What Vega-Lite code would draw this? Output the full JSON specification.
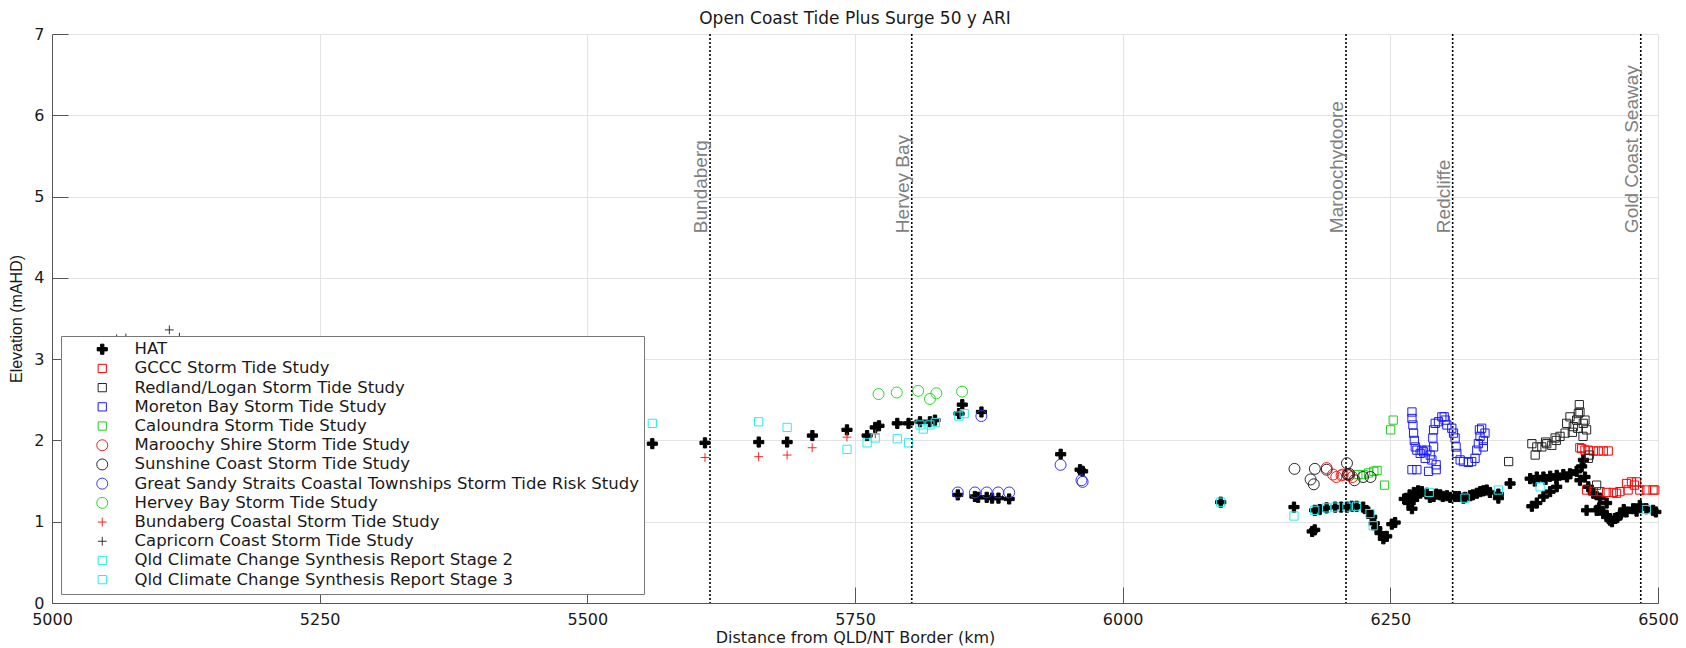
{
"$schema":"https://vega.github.io/schema/vega-lite/v6.json",
"width":1606,"height":569,
"autosize":"none",
"padding":{"left":52,"top":34,"right":28,"bottom":45},
"background":"white",
"title":{"text":"Open Coast Tide Plus Surge 50 y ARI","font":"DejaVu Sans","fontSize":17,"fontWeight":"normal","color":"#1a1a1a","offset":-2,"frame":"group","anchor":"middle"},
"config":{
 "view":{"stroke":null},
 "axis":{"labelFont":"DejaVu Sans","labelFontSize":16,"labelColor":"#1a1a1a","titleFont":"DejaVu Sans","titleFontSize":16,"titleFontWeight":"normal","titleColor":"#1a1a1a","domainColor":"#555555","tickColor":"#555555","gridColor":"#e3e3e3","domainWidth":1,"tickWidth":1},
 "legend":{"orient":"none","legendX":9,"legendY":302,"fillColor":"white","strokeColor":"#777777","padding":5,"rowPadding":2.2,"symbolOffset":28,"labelOffset":24,"symbolSize":121,"symbolStrokeWidth":1,"labelFont":"DejaVu Sans","labelFontSize":16.5,"labelColor":"#1a1a1a","labelLimit":800}
},
"datasets":{
"names":[
{"c":"H","s":"HAT"},
{"c":"G","s":"GCCC Storm Tide Study"},
{"c":"R","s":"Redland/Logan Storm Tide Study"},
{"c":"M","s":"Moreton Bay Storm Tide Study"},
{"c":"C","s":"Caloundra Storm Tide Study"},
{"c":"MS","s":"Maroochy Shire Storm Tide Study"},
{"c":"SC","s":"Sunshine Coast Storm Tide Study"},
{"c":"GS","s":"Great Sandy Straits Coastal Townships Storm Tide Risk Study"},
{"c":"HB","s":"Hervey Bay Storm Tide Study"},
{"c":"B","s":"Bundaberg Coastal Storm Tide Study"},
{"c":"CC","s":"Capricorn Coast Storm Tide Study"},
{"c":"Q2","s":"Qld Climate Change Synthesis Report Stage 2"},
{"c":"Q3","s":"Qld Climate Change Synthesis Report Stage 3"}
],
"lines":[
{"name":"Bundaberg","km":5614.6},
{"name":"Hervey Bay","km":5803},
{"name":"Maroochydoore","km":6208.6},
{"name":"Redcliffe","km":6308.2},
{"name":"Gold Coast Seaway","km":6483.9}
],
"pts":[
{"c":"H","km":5560.7,"e":1.96},{"c":"H","km":5609.9,"e":1.97},{"c":"H","km":5660.1,"e":1.98},{"c":"H","km":5686.6,"e":1.98},{"c":"H","km":5710.2,"e":2.06},{"c":"H","km":5742.5,"e":2.13},{"c":"H","km":5761.3,"e":2.06},{"c":"H","km":5768.9,"e":2.16},{"c":"H","km":5772.4,"e":2.18},{"c":"H","km":5789.5,"e":2.21},{"c":"H","km":5800,"e":2.21},{"c":"H","km":5810.7,"e":2.23},{"c":"H","km":5820,"e":2.23},{"c":"H","km":5824.7,"e":2.25},{"c":"H","km":5847.2,"e":2.33},{"c":"H","km":5850.2,"e":2.44},{"c":"H","km":5868.1,"e":2.35},
{"c":"H","km":5846,"e":1.33},{"c":"H","km":5862,"e":1.31},{"c":"H","km":5865,"e":1.30},{"c":"H","km":5873,"e":1.30},{"c":"H","km":5878,"e":1.29},{"c":"H","km":5884,"e":1.29},{"c":"H","km":5894,"e":1.28},
{"c":"H","km":5942.1,"e":1.83},{"c":"H","km":5960.2,"e":1.64},{"c":"H","km":5962.6,"e":1.62},{"c":"H","km":6091.6,"e":1.24},
{"c":"H","km":6160,"e":1.18},{"c":"H","km":6177,"e":0.88},{"c":"H","km":6179.4,"e":0.90},{"c":"H","km":6179.4,"e":1.14},{"c":"H","km":6184,"e":1.15},{"c":"H","km":6190.5,"e":1.17},{"c":"H","km":6198.5,"e":1.18},{"c":"H","km":6204,"e":1.18},{"c":"H","km":6209.5,"e":1.18},{"c":"H","km":6214,"e":1.19},{"c":"H","km":6218.5,"e":1.19},{"c":"H","km":6224.6,"e":1.18},{"c":"H","km":6229.4,"e":1.12},{"c":"H","km":6232.6,"e":1.06},{"c":"H","km":6235,"e":0.98},{"c":"H","km":6237.3,"e":0.92},{"c":"H","km":6240.4,"e":0.86},{"c":"H","km":6243.5,"e":0.79},{"c":"H","km":6246.6,"e":0.82},{"c":"H","km":6251.4,"e":0.97},{"c":"H","km":6254.5,"e":0.99},
{"c":"H","km":6263,"e":1.28},{"c":"H","km":6267,"e":1.23},{"c":"H","km":6270.2,"e":1.16},{"c":"H","km":6271.7,"e":1.27},{"c":"H","km":6268,"e":1.33},{"c":"H","km":6272,"e":1.36},{"c":"H","km":6274.8,"e":1.31},{"c":"H","km":6276,"e":1.38},{"c":"H","km":6279.5,"e":1.37},{"c":"H","km":6284.1,"e":1.35},{"c":"H","km":6287,"e":1.30},{"c":"H","km":6290.4,"e":1.31},{"c":"H","km":6293,"e":1.34},{"c":"H","km":6296.6,"e":1.33},{"c":"H","km":6299,"e":1.31},{"c":"H","km":6302.8,"e":1.32},{"c":"H","km":6306,"e":1.30},{"c":"H","km":6310.5,"e":1.31},{"c":"H","km":6314,"e":1.31},{"c":"H","km":6318.3,"e":1.29},{"c":"H","km":6320,"e":1.30},{"c":"H","km":6324.5,"e":1.32},{"c":"H","km":6327,"e":1.33},{"c":"H","km":6330.7,"e":1.35},{"c":"H","km":6334,"e":1.37},{"c":"H","km":6336.9,"e":1.38},{"c":"H","km":6340,"e":1.39},{"c":"H","km":6343,"e":1.36},{"c":"H","km":6350.9,"e":1.34},{"c":"H","km":6350.9,"e":1.29},{"c":"H","km":6361.8,"e":1.47},
{"c":"H","km":6380.6,"e":1.53},{"c":"H","km":6385,"e":1.50},{"c":"H","km":6386.8,"e":1.55},{"c":"H","km":6393,"e":1.55},{"c":"H","km":6395,"e":1.52},{"c":"H","km":6399.3,"e":1.56},{"c":"H","km":6405,"e":1.53},{"c":"H","km":6405.4,"e":1.57},{"c":"H","km":6411.6,"e":1.58},{"c":"H","km":6415,"e":1.55},{"c":"H","km":6417.8,"e":1.59},{"c":"H","km":6424,"e":1.62},{"c":"H","km":6428.7,"e":1.68},{"c":"H","km":6430.3,"e":1.76},{"c":"H","km":6427.1,"e":1.51},{"c":"H","km":6431.8,"e":1.55},{"c":"H","km":6434.9,"e":1.43},{"c":"H","km":6439.6,"e":1.35},{"c":"H","km":6445.8,"e":1.29},{"c":"H","km":6452,"e":1.23},
{"c":"H","km":6382.2,"e":1.19},{"c":"H","km":6386.8,"e":1.23},{"c":"H","km":6393,"e":1.31},{"c":"H","km":6399.2,"e":1.37},{"c":"H","km":6405.4,"e":1.43},
{"c":"H","km":6433.3,"e":1.14},{"c":"H","km":6442.7,"e":1.14},{"c":"H","km":6445,"e":1.17},{"c":"H","km":6448.9,"e":1.10},{"c":"H","km":6452,"e":1.08},{"c":"H","km":6455.1,"e":1.02},{"c":"H","km":6457,"e":1.00},{"c":"H","km":6459.7,"e":1.04},{"c":"H","km":6462,"e":1.05},{"c":"H","km":6464.4,"e":1.08},{"c":"H","km":6468,"e":1.15},{"c":"H","km":6470.6,"e":1.12},{"c":"H","km":6476.8,"e":1.16},{"c":"H","km":6480,"e":1.13},{"c":"H","km":6483,"e":1.20},{"c":"H","km":6489.2,"e":1.16},{"c":"H","km":6495.4,"e":1.14},{"c":"H","km":6498,"e":1.12},
{"c":"G","km":6427,"e":1.91},{"c":"G","km":6428.7,"e":1.90},{"c":"G","km":6431.8,"e":1.88},{"c":"G","km":6434.9,"e":1.88},{"c":"G","km":6439.6,"e":1.87},{"c":"G","km":6444.2,"e":1.87},{"c":"G","km":6448.9,"e":1.87},{"c":"G","km":6453.5,"e":1.87},
{"c":"G","km":6433.3,"e":1.39},{"c":"G","km":6439.6,"e":1.37},{"c":"G","km":6445.8,"e":1.37},{"c":"G","km":6452,"e":1.36},{"c":"G","km":6458.2,"e":1.36},{"c":"G","km":6461.3,"e":1.35},{"c":"G","km":6464.4,"e":1.37},{"c":"G","km":6470.6,"e":1.47},{"c":"G","km":6472.1,"e":1.39},{"c":"G","km":6475.2,"e":1.49},{"c":"G","km":6478,"e":1.45},{"c":"G","km":6479.9,"e":1.49},{"c":"G","km":6483,"e":1.39},{"c":"G","km":6489.2,"e":1.39},{"c":"G","km":6495.4,"e":1.39},{"c":"G","km":6497,"e":1.39},
{"c":"R","km":6360.5,"e":1.74},{"c":"R","km":6382.2,"e":1.96},{"c":"R","km":6385.3,"e":1.82},{"c":"R","km":6386.8,"e":1.92},{"c":"R","km":6391.5,"e":1.92},{"c":"R","km":6395,"e":1.98},{"c":"R","km":6396.1,"e":1.96},{"c":"R","km":6400.8,"e":1.94},{"c":"R","km":6403.9,"e":2.03},{"c":"R","km":6405,"e":2.00},{"c":"R","km":6408.5,"e":2.05},{"c":"R","km":6413.2,"e":2.09},{"c":"R","km":6414.7,"e":2.21},{"c":"R","km":6417.8,"e":2.29},{"c":"R","km":6420,"e":2.10},{"c":"R","km":6420.9,"e":2.17},{"c":"R","km":6424,"e":2.25},{"c":"R","km":6425,"e":2.15},{"c":"R","km":6425.6,"e":2.33},{"c":"R","km":6426.5,"e":2.44},{"c":"R","km":6427.1,"e":2.35},{"c":"R","km":6430,"e":2.05},{"c":"R","km":6430.2,"e":2.21},{"c":"R","km":6431.8,"e":2.25},{"c":"R","km":6433.3,"e":2.13},{"c":"R","km":6434.9,"e":1.78},{"c":"R","km":6435.8,"e":1.82},{"c":"R","km":6442.7,"e":1.45},
{"c":"M","km":6270.2,"e":2.35},{"c":"M","km":6270.2,"e":2.27},{"c":"M","km":6271.1,"e":2.19},{"c":"M","km":6271.7,"e":2.09},{"c":"M","km":6272.4,"e":2.00},{"c":"M","km":6273.3,"e":1.92},{"c":"M","km":6274.8,"e":1.88},{"c":"M","km":6277.9,"e":1.84},{"c":"M","km":6281,"e":1.86},{"c":"M","km":6284.1,"e":1.88},{"c":"M","km":6287.2,"e":1.82},{"c":"M","km":6288.8,"e":1.76},{"c":"M","km":6290.4,"e":1.92},{"c":"M","km":6289.7,"e":2.03},{"c":"M","km":6290.4,"e":2.13},{"c":"M","km":6291.9,"e":2.21},{"c":"M","km":6295,"e":2.23},{"c":"M","km":6298.1,"e":2.29},{"c":"M","km":6300.3,"e":2.29},{"c":"M","km":6301.2,"e":2.25},{"c":"M","km":6302.8,"e":2.19},{"c":"M","km":6307.4,"e":2.15},{"c":"M","km":6309,"e":2.09},{"c":"M","km":6310.5,"e":2.03},{"c":"M","km":6311.4,"e":1.92},{"c":"M","km":6312.1,"e":1.84},{"c":"M","km":6315.2,"e":1.76},{"c":"M","km":6318.3,"e":1.74},{"c":"M","km":6322.9,"e":1.73},{"c":"M","km":6326,"e":1.74},{"c":"M","km":6329.1,"e":1.78},{"c":"M","km":6330.7,"e":1.88},{"c":"M","km":6332.2,"e":1.96},{"c":"M","km":6333.8,"e":2.05},{"c":"M","km":6333.2,"e":2.13},{"c":"M","km":6335.3,"e":2.15},{"c":"M","km":6338.4,"e":2.09},{"c":"M","km":6336.9,"e":2.00},{"c":"M","km":6336.9,"e":1.92},{"c":"M","km":6270.2,"e":1.64},{"c":"M","km":6274.8,"e":1.64},{"c":"M","km":6285.7,"e":1.62},{"c":"M","km":6292.8,"e":1.64},{"c":"M","km":6292.8,"e":1.70},{"c":"M","km":6279.5,"e":1.88},{"c":"M","km":6282.6,"e":1.78},
{"c":"C","km":6219.6,"e":1.58},{"c":"C","km":6224.6,"e":1.58},{"c":"C","km":6229.6,"e":1.60},{"c":"C","km":6234.6,"e":1.62},{"c":"C","km":6237.6,"e":1.63},{"c":"C","km":6244.6,"e":1.45},{"c":"C","km":6250.3,"e":2.13},{"c":"C","km":6252.7,"e":2.25},
{"c":"MS","km":6190.5,"e":1.66},{"c":"MS","km":6196.5,"e":1.58},{"c":"MS","km":6199.5,"e":1.55},{"c":"MS","km":6204.5,"e":1.57},{"c":"MS","km":6205.5,"e":1.58},{"c":"MS","km":6210.1,"e":1.58},{"c":"MS","km":6211.5,"e":1.57},{"c":"MS","km":6214.5,"e":1.55},
{"c":"SC","km":6160.5,"e":1.65},{"c":"SC","km":6175.5,"e":1.52},{"c":"SC","km":6178.5,"e":1.46},{"c":"SC","km":6179.5,"e":1.65},{"c":"SC","km":6190.5,"e":1.64},{"c":"SC","km":6209.5,"e":1.72},{"c":"SC","km":6210.1,"e":1.58},{"c":"SC","km":6211.5,"e":1.59},{"c":"SC","km":6216.5,"e":1.51},{"c":"SC","km":6224.5,"e":1.55},{"c":"SC","km":6231.5,"e":1.55},
{"c":"GS","km":5868,"e":2.30},{"c":"GS","km":5846,"e":1.36},{"c":"GS","km":5862,"e":1.36},{"c":"GS","km":5873,"e":1.36},{"c":"GS","km":5883.7,"e":1.36},{"c":"GS","km":5894,"e":1.36},{"c":"GS","km":5942,"e":1.70},{"c":"GS","km":5961.5,"e":1.51},{"c":"GS","km":5962.6,"e":1.49},
{"c":"HB","km":5772,"e":2.57},{"c":"HB","km":5789,"e":2.59},{"c":"HB","km":5809,"e":2.61},{"c":"HB","km":5820,"e":2.51},{"c":"HB","km":5826,"e":2.58},{"c":"HB","km":5850,"e":2.60},
{"c":"B","km":5609.9,"e":1.79},{"c":"B","km":5660,"e":1.80},{"c":"B","km":5686.6,"e":1.82},{"c":"B","km":5710,"e":1.91},{"c":"B","km":5742.5,"e":2.04},{"c":"B","km":5769,"e":2.08},
{"c":"CC","km":5060.4,"e":3.25},{"c":"CC","km":5069,"e":3.26},{"c":"CC","km":5109.6,"e":3.36},{"c":"CC","km":5119,"e":3.27},
{"c":"Q2","km":5560.7,"e":2.21},{"c":"Q2","km":5660,"e":2.23},{"c":"Q2","km":5686.6,"e":2.16},{"c":"Q2","km":5742.5,"e":1.89},{"c":"Q2","km":5761.3,"e":1.97},{"c":"Q2","km":5768.9,"e":2.03},{"c":"Q2","km":5789.5,"e":2.02},{"c":"Q2","km":5800,"e":1.97},{"c":"Q2","km":5810.7,"e":2.19},{"c":"Q2","km":5813.8,"e":2.14},{"c":"Q2","km":5820,"e":2.19},{"c":"Q2","km":5825,"e":2.22},{"c":"Q2","km":5847,"e":2.30},{"c":"Q2","km":5852,"e":2.33},{"c":"Q2","km":6091.6,"e":1.24},{"c":"Q2","km":6160,"e":1.07},
{"c":"Q3","km":6179.4,"e":1.14},{"c":"Q3","km":6190.5,"e":1.17},{"c":"Q3","km":6198.5,"e":1.18},{"c":"Q3","km":6209.5,"e":1.18},{"c":"Q3","km":6218.5,"e":1.19},{"c":"Q3","km":6231,"e":1.10},{"c":"Q3","km":6234,"e":0.95},{"c":"Q3","km":6286.3,"e":1.36},{"c":"Q3","km":6319.8,"e":1.29},{"c":"Q3","km":6350.9,"e":1.39},{"c":"Q3","km":6389.9,"e":1.43},{"c":"Q3","km":6489.2,"e":1.15}
]
},
"layer":[
{
"data":{"name":"pts"},
"transform":[{"lookup":"c","from":{"data":{"name":"names"},"key":"c","fields":["s"]}}],
"mark":{"type":"point","opacity":1,"strokeWidth":1,"size":121},
"encoding":{
 "x":{"field":"km","type":"quantitative","scale":{"domain":[5000,6500],"nice":false,"zero":false},
  "axis":{"values":[5000,5250,5500,5750,6000,6250,6500],"format":"d","title":"Distance from QLD/NT Border (km)","labelFlush":false,"tickSize":-16,"labelPadding":24,"titleY":34,"titleBaseline":"middle","grid":true}},
 "y":{"field":"e","type":"quantitative","scale":{"domain":[0,7],"nice":false,"zero":false},
  "axis":{"values":[0,1,2,3,4,5,6,7],"format":"d","title":"Elevation (mAHD)","tickSize":-16,"labelPadding":24,"titleFont":"Liberation Sans","titleFontSize":16,"titleX":-36,"titleY":284.5,"titleAngle":270,"titleAlign":"center","titleBaseline":"middle","grid":true}},
 "shape":{"field":"s","type":"nominal","legend":{"title":null},
  "scale":{"domain":["HAT","GCCC Storm Tide Study","Redland/Logan Storm Tide Study","Moreton Bay Storm Tide Study","Caloundra Storm Tide Study","Maroochy Shire Storm Tide Study","Sunshine Coast Storm Tide Study","Great Sandy Straits Coastal Townships Storm Tide Risk Study","Hervey Bay Storm Tide Study","Bundaberg Coastal Storm Tide Study","Capricorn Coast Storm Tide Study","Qld Climate Change Synthesis Report Stage 2","Qld Climate Change Synthesis Report Stage 3"],
  "range":["M-0.92,-0.3H-0.3V-0.92H0.3V-0.3H0.92V0.3H0.3V0.92H-0.3V0.3H-0.92Z","M-0.75,-0.75H0.75V0.75H-0.75Z","M-0.75,-0.75H0.75V0.75H-0.75Z","M-0.75,-0.75H0.75V0.75H-0.75Z","M-0.75,-0.75H0.75V0.75H-0.75Z","M-1,0A1,1 0 1,1 1,0A1,1 0 1,1 -1,0Z","M-1,0A1,1 0 1,1 1,0A1,1 0 1,1 -1,0Z","M-1,0A1,1 0 1,1 1,0A1,1 0 1,1 -1,0Z","M-1,0A1,1 0 1,1 1,0A1,1 0 1,1 -1,0Z","M-0.8,0H0.8M0,-0.8V0.8","M-0.8,0H0.8M0,-0.8V0.8","M-0.75,-0.75H0.75V0.75H-0.75Z","M-0.75,-0.75H0.75V0.75H-0.75Z"]}},
 "stroke":{"field":"s","type":"nominal","legend":{"title":null},
  "scale":{"domain":["HAT","GCCC Storm Tide Study","Redland/Logan Storm Tide Study","Moreton Bay Storm Tide Study","Caloundra Storm Tide Study","Maroochy Shire Storm Tide Study","Sunshine Coast Storm Tide Study","Great Sandy Straits Coastal Townships Storm Tide Risk Study","Hervey Bay Storm Tide Study","Bundaberg Coastal Storm Tide Study","Capricorn Coast Storm Tide Study","Qld Climate Change Synthesis Report Stage 2","Qld Climate Change Synthesis Report Stage 3"],
  "range":["#000000","#ff0000","#262626","#1a1aff","#22cc22","#ff1a1a","#262626","#3333ff","#22dd22","#ff2222","#333333","#22f0f0","#22f0f0"]}},
 "fill":{"field":"s","type":"nominal","legend":{"title":null},
  "scale":{"domain":["HAT","GCCC Storm Tide Study","Redland/Logan Storm Tide Study","Moreton Bay Storm Tide Study","Caloundra Storm Tide Study","Maroochy Shire Storm Tide Study","Sunshine Coast Storm Tide Study","Great Sandy Straits Coastal Townships Storm Tide Risk Study","Hervey Bay Storm Tide Study","Bundaberg Coastal Storm Tide Study","Capricorn Coast Storm Tide Study","Qld Climate Change Synthesis Report Stage 2","Qld Climate Change Synthesis Report Stage 3"],
  "range":["#000000","transparent","transparent","transparent","transparent","transparent","transparent","transparent","transparent","transparent","transparent","transparent","transparent"]}}
}
},
{
"data":{"name":"lines"},
"mark":{"type":"rule","strokeDash":[2,2],"strokeWidth":1.6,"color":"#000000"},
"encoding":{"x":{"field":"km","type":"quantitative"}}
},
{
"data":{"name":"lines"},
"mark":{"type":"text","angle":270,"align":"left","baseline":"alphabetic","dy":-3,"font":"Liberation Sans","fontSize":19,"color":"#808080"},
"encoding":{"x":{"field":"km","type":"quantitative"},"y":{"datum":4.55},"text":{"field":"name"}}
}
]
}
